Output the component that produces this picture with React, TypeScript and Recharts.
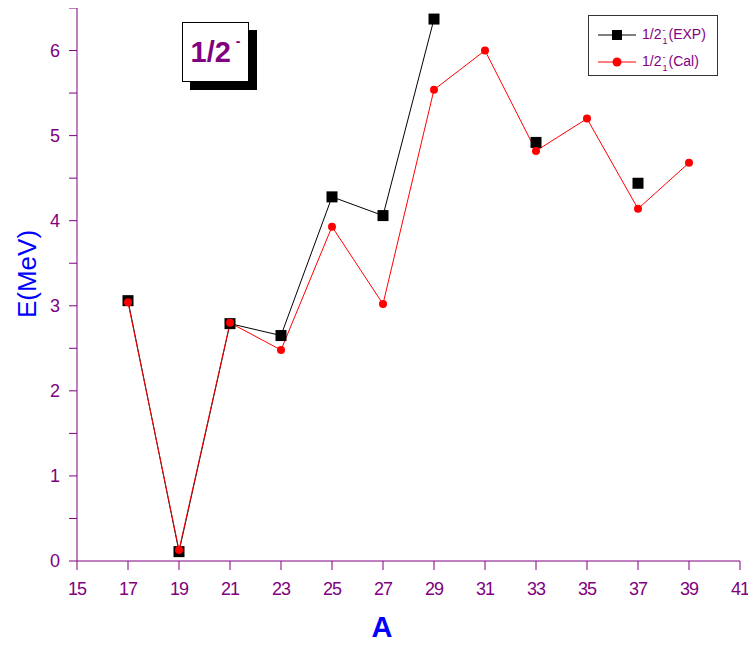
import React from 'react';
import { LineChart, Line, XAxis, YAxis } from 'recharts';

const massNumbers = [17, 19, 21, 23, 25, 27, 29, 31, 33, 35, 37, 39];
const expValues: (number | null)[] = [3.06, 0.11, 2.79, 2.65, 4.28, 4.06, 6.37, null, 4.92, null, 4.44, null];
const calValues: (number | null)[] = [3.04, 0.13, 2.8, 2.48, 3.93, 3.02, 5.54, 6.0, 4.82, 5.2, 4.14, 4.68];
const xTicks = [15, 17, 19, 21, 23, 25, 27, 29, 31, 33, 35, 37, 39, 41];
const yTicks = [0, 0.5, 1, 1.5, 2, 2.5, 3, 3.5, 4, 4.5, 5, 5.5, 6, 6.5];

const data = massNumbers.map((a, i) => ({ a, exp: expValues[i], cal: calValues[i] }));

const PURPLE = '#800080';
const FONT = "'Liberation Sans Narrow', 'Liberation Sans', Arial, sans-serif";

const SquareDot = (props: any) => {
  const { cx, cy, value } = props;
  if (value == null || cx == null || cy == null) return null;
  return <rect x={cx - 5.5} y={cy - 5.5} width={11} height={11} fill="#000" />;
};

const CircleDot = (props: any) => {
  const { cx, cy, value } = props;
  if (value == null || cx == null || cy == null) return null;
  return <circle cx={cx} cy={cy} r={4} fill="#ff0000" />;
};

const YTick = (props: any) => {
  const { x, y, payload } = props;
  if (!Number.isInteger(payload.value)) return null;
  return (
    <text x={x} y={y} dy="0.36em" textAnchor="end" fill={PURPLE} fontSize={18} fontFamily={FONT} letterSpacing={-1}>
      {payload.value}
    </text>
  );
};

const LegendLabel = ({ name }: { name: string }) => (
  <span style={{ display: 'inline-flex', alignItems: 'flex-start', whiteSpace: 'nowrap' }}>
    <span>1/2</span>
    <span style={{ display: 'inline-flex', flexDirection: 'column', fontSize: 9, lineHeight: '8px', marginLeft: 1, marginRight: 1 }}>
      <span>-</span>
      <span style={{ marginTop: 3 }}>1</span>
    </span>
    <span>({name})</span>
  </span>
);

export default function App() {
  return (
    <div style={{ position: 'relative', width: 748, height: 639, background: '#fff' }}>
      <LineChart width={748} height={639} data={data} margin={{ top: 0, right: 16, bottom: 0, left: 0 }}>
        <XAxis
          dataKey="a"
          type="number"
          domain={[15, 41]}
          ticks={xTicks}
          interval={0}
          height={86}
          stroke={PURPLE}
          tickSize={9}
          tickMargin={12}
          tick={{ fill: PURPLE, fontSize: 18, fontFamily: FONT, letterSpacing: -1 }}
        />
        <YAxis
          type="number"
          domain={[0, 6.5]}
          ticks={yTicks}
          interval={0}
          width={69}
          stroke={PURPLE}
          tickSize={8}
          tickMargin={10}
          tick={<YTick />}
        />
        <Line
          dataKey="exp"
          stroke="#000"
          strokeWidth={1}
          dot={<SquareDot />}
          activeDot={false}
          connectNulls={false}
          isAnimationActive={false}
        />
        <Line
          dataKey="cal"
          stroke="#ff0000"
          strokeWidth={1}
          dot={<CircleDot />}
          activeDot={false}
          connectNulls={false}
          isAnimationActive={false}
        />
      </LineChart>

      <div
        style={{
          position: 'absolute',
          left: 580,
          top: 7,
          width: 130,
          height: 61,
          border: '1.5px solid #333',
          background: '#fff',
          boxSizing: 'border-box',
          fontFamily: FONT,
          fontSize: 14,
          color: PURPLE,
        }}
      >
        <svg width={42} height={59} style={{ position: 'absolute', left: 9, top: 0 }}>
          <line x1={0} y1={19} x2={38} y2={19} stroke="#000" strokeWidth={1} />
          <rect x={14} y={14} width={10} height={10} fill="#000" />
          <line x1={0} y1={46} x2={38} y2={46} stroke="#ff0000" strokeWidth={1} />
          <circle cx={19} cy={46} r={4.5} fill="#ff0000" />
        </svg>
        <div style={{ position: 'absolute', left: 53, top: 10, lineHeight: '16px' }}>
          <LegendLabel name="EXP" />
        </div>
        <div style={{ position: 'absolute', left: 53, top: 37, lineHeight: '16px' }}>
          <LegendLabel name="Cal" />
        </div>
      </div>

      <div
        style={{
          position: 'absolute',
          left: 19,
          top: 266,
          transform: 'translate(-50%, -50%) rotate(-90deg)',
          color: '#0000ff',
          fontFamily: FONT,
          fontSize: 26,
          whiteSpace: 'nowrap',
        }}
      >
        E(MeV)
      </div>
      <div
        style={{
          position: 'absolute',
          left: 374,
          top: 619,
          transform: 'translate(-50%, -50%)',
          color: '#0000ff',
          fontFamily: FONT,
          fontSize: 29,
          fontWeight: 'bold',
        }}
      >
        A
      </div>

      <div
        style={{
          position: 'absolute',
          left: 182,
          top: 22,
          width: 67,
          height: 60,
          background: '#000',
        }}
      />
      <div
        style={{
          position: 'absolute',
          left: 174,
          top: 14,
          width: 67,
          height: 60,
          background: '#fff',
          border: '1px solid #000',
          boxSizing: 'border-box',
          color: PURPLE,
          fontFamily: FONT,
          fontWeight: 'bold',
          fontSize: 29,
          display: 'flex',
          alignItems: 'center',
          justifyContent: 'center',
        }}
      >
        <span>
          1/2<sup style={{ fontSize: 14, marginLeft: 5, position: 'relative', top: -5 }}>-</sup>
        </span>
      </div>
    </div>
  );
}
